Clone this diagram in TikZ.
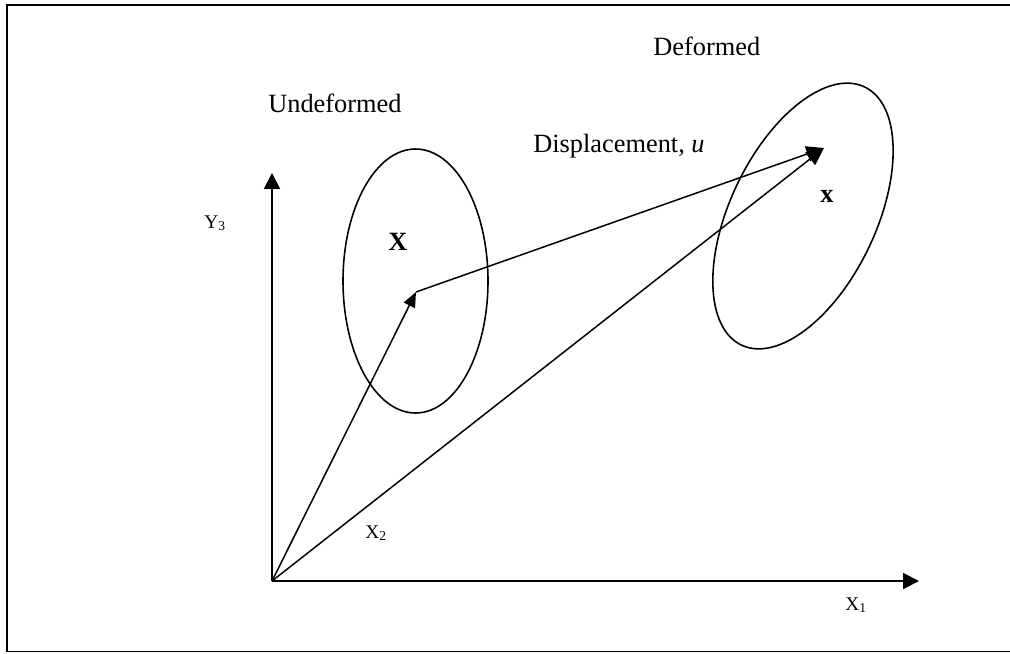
\documentclass[tikz,border=0pt]{standalone}
\usepackage{fontspec}
\setmainfont{Liberation Serif}
\usetikzlibrary{arrows.meta}

\begin{document}
\begin{tikzpicture}[x=.02cm,y=-.02cm,font=\fontsize{15}{18}\selectfont,
  axis/.style={-{Triangle[length=9pt,width=9pt]},line width=1.1pt},
  vec/.style={-{Triangle[length=8.5pt,width=7pt]},line width=.85pt},
  small/.style={font=\fontsize{11}{13}\selectfont}]
\path[use as bounding box] (0,0) rectangle (1010,653);
\draw[line width=1.1pt] (1012,5) -- (7,5) -- (7,651.5) -- (1012,651.5);
% points
\coordinate (O) at (272,581);
\coordinate (Ytip) at (272,173);
\coordinate (Xtip) at (919,581);
\coordinate (P) at (416,292);
\coordinate (Q) at (824,148);
\coordinate (Ec1) at (415.5,281);
\coordinate (Ec2) at (803,216);
% bodies
\draw[line width=.9pt] (Ec1) ellipse [x radius=72.5,y radius=132];
\draw[line width=.9pt,rotate around={-25.5:(Ec2)}] (Ec2) ellipse [x radius=73,y radius=143];
% axes and vectors
\draw[axis] (O) -- (Ytip);
\draw[axis] (O) -- (Xtip);
\draw[vec] (O) -- (P);
\draw[vec,-{Triangle[length=10pt,width=9pt]}] (P) -- (Q);
\draw[vec,-{Triangle[length=10pt,width=9pt]}] (O) -- (Q);
% labels
\node[anchor=base west,inner sep=0] (lund) at (268,112) {Undeformed};
\node[anchor=base west,inner sep=0] (ldef) at (653,55) {Deformed};
\node[anchor=base west,inner sep=0] (ldisp) at (533,152) {Displacement, \textit{u}};
\node[anchor=base west,inner sep=0] (lX) at (388,250) {\textbf{X}};
\node[anchor=base west,inner sep=0] (lx) at (820,202) {\textbf{x}};
\node[small,anchor=base west,inner sep=0] (lY3) at (204,228) {Y\textsubscript{3}};
\node[small,anchor=base west,inner sep=0] (lX2) at (365,538) {X\textsubscript{2}};
\node[small,anchor=base west,inner sep=0] (lX1) at (845,610) {X\textsubscript{1}};
\end{tikzpicture}
\end{document}
